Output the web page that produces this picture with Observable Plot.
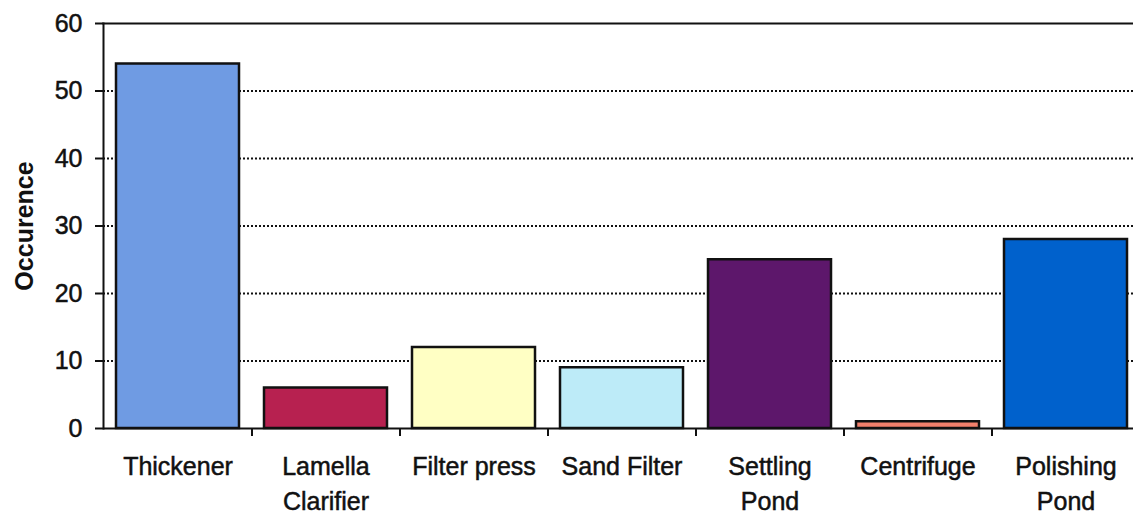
<!DOCTYPE html>
<html>
<head>
<meta charset="utf-8">
<script src="https://cdn.jsdelivr.net/npm/d3@7"></script>
<script src="https://cdn.jsdelivr.net/npm/@observablehq/plot@0.6"></script>
<style>
  html, body { margin: 0; padding: 0; background: #fff; overflow: hidden; }
  #chart svg { overflow: visible; font-family: "Liberation Sans", Arial, sans-serif; }
  #chart [aria-label="y-axis label"] { font-weight: bold; }
  #chart [aria-label="x-axis tick label"] text,
  #chart [aria-label="y-axis tick label"] text { stroke: #111; stroke-width: 0.5px; }
</style>
</head>
<body>
<div id="chart"></div>
<script>
const categories = ["Thickener", "Lamella Clarifier", "Filter press", "Sand Filter", "Settling Pond", "Centrifuge", "Polishing Pond"];
const tickLabels = ["Thickener", "Lamella\nClarifier", "Filter press", "Sand Filter", "Settling\nPond", "Centrifuge", "Polishing\nPond"];
const values = [54, 6, 12, 9, 25, 1, 28];
const colors = ["#6f9be3", "#b72150", "#ffffc4", "#bdebf8", "#5d176b", "#f2806c", "#0061cc"];
const yTicks = [0, 10, 20, 30, 40, 50, 60];
const gridTicks = [10, 20, 30, 40, 50];

const data = categories.map((c, i) => ({category: c, value: values[i], color: colors[i]}));
const labelOf = new Map(categories.map((c, i) => [c, tickLabels[i]]));

const W = 1133, H = 513, ML = 103, MR = -6;
const step = (W - ML - MR) / categories.length;

const chart = Plot.plot({
  width: W,
  height: H,
  marginLeft: ML,
  marginRight: MR,
  marginTop: 23,
  marginBottom: 85,
  style: {fontSize: "25px", fontFamily: "Liberation Sans, Arial, sans-serif", color: "#111", background: "#fff"},
  x: {domain: categories, paddingInner: 0.17, paddingOuter: 0.085},
  y: {domain: [0, 60]},
  marks: [
    Plot.gridY(gridTicks, {stroke: "#111", strokeOpacity: 1, strokeWidth: 2, strokeDasharray: "2,2"}),
    Plot.barY(data, {x: "category", y: "value", fill: "color", stroke: "#111", strokeWidth: 2.5}),
    Plot.ruleY([0], {stroke: "#111", strokeWidth: 2}),
    Plot.frame({anchor: "top", stroke: "#111", strokeWidth: 2}),
    Plot.frame({anchor: "left", stroke: "#111", strokeWidth: 2}),
    Plot.ruleX(categories.slice(1), {x: d => d, dx: -step / 2, y1: 0, y2: 0, insetBottom: -8, stroke: "#111", strokeWidth: 2}),
    Plot.axisY(yTicks, {tickSize: 8, tickPadding: 13, strokeWidth: 2, fontSize: 25, label: "Occurence", labelAnchor: "center", labelOffset: 88, labelArrow: "none"}),
    Plot.axisX({tickSize: 0, tickPadding: 21, fontSize: 25, lineHeight: 1.42, tickFormat: d => labelOf.get(d), label: null})
  ]
});
document.getElementById("chart").appendChild(chart);
</script>
</body>
</html>
